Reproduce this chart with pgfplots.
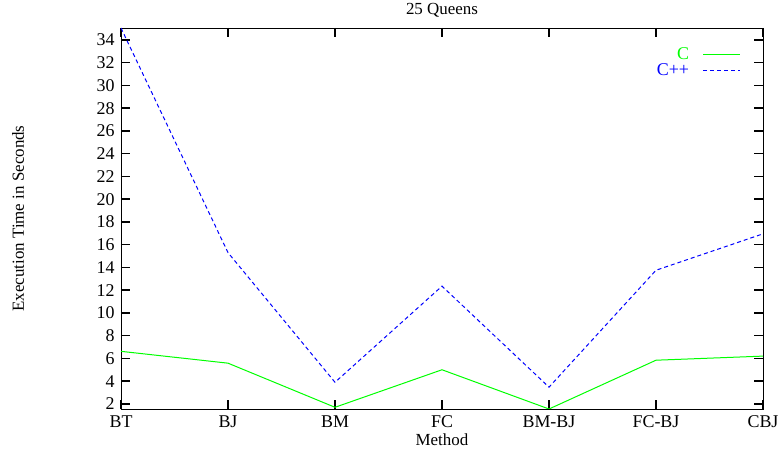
\documentclass[border=0pt]{standalone}
\usepackage{fontspec}
\setmainfont{Liberation Serif}
\usepackage{pgfplots}
\pgfplotsset{compat=1.18}
\definecolor{gpgreen}{RGB}{0,255,0}
\definecolor{gpblue}{RGB}{0,0,255}
\begin{document}
\begin{tikzpicture}
\begin{axis}[
    scale only axis,
    width=642bp, height=381bp,
    xmin=0, xmax=6,
    ymin=1.55, ymax=35.05,
    xtick={0,1,2,3,4,5,6},
    xticklabels={BT,BJ,BM,FC,BM-BJ,FC-BJ,CBJ},
    ytick={2,4,...,34},
    tick align=inside,
    major tick length=9bp,
    major tick style={black, line width=1.5bp},
    tick label style={font=\fontsize{18}{20}\selectfont},
    /pgf/number format/assume math mode=true,
    title={25 Queens},
    title style={font=\fontsize{17}{19}\selectfont, at={(0.5,1)}, anchor=south, yshift=1bp},
    xlabel={Method},
    ylabel={Execution Time in Seconds},
    label style={font=\fontsize{17}{19}\selectfont},
    xlabel style={at={(0.5,0)}, anchor=north, yshift=-21bp},
    ylabel style={at={(0,0.5)}, anchor=center, rotate=0, yshift=103bp},
    xticklabel style={yshift=-3bp},
    yticklabel style={xshift=-3bp},
    legend style={draw=none, fill=none, at={(0.966,0.955)}, anchor=north east,
        font=\fontsize{18}{20}\selectfont, inner sep=0pt, row sep=-1bp,
        /tikz/every odd column/.append style={column sep=12bp}},
    legend cell align=right,
    legend plot pos=right,
    legend image code/.code={\draw[#1] (0bp,0bp) -- (37bp,0bp);},
]
\addplot[color=gpgreen, line width=1bp] coordinates {
    (0,6.62) (1,5.58) (2,1.7) (3,5.0) (4,1.55) (5,5.84) (6,6.2)
};
\addlegendentry{\textcolor{gpgreen}{C}}
\addplot[color=gpblue, line width=1bp, dash pattern=on 4bp off 3bp] coordinates {
    (0,35.05) (1,15.3) (2,3.9) (3,12.35) (4,3.47) (5,13.75) (6,16.95)
};
\addlegendentry{\textcolor{gpblue}{C++}}
\end{axis}
\path (current axis.south west) ++(-121bp,-46bp) rectangle ++(782bp,455bp);
\end{tikzpicture}
\end{document}
